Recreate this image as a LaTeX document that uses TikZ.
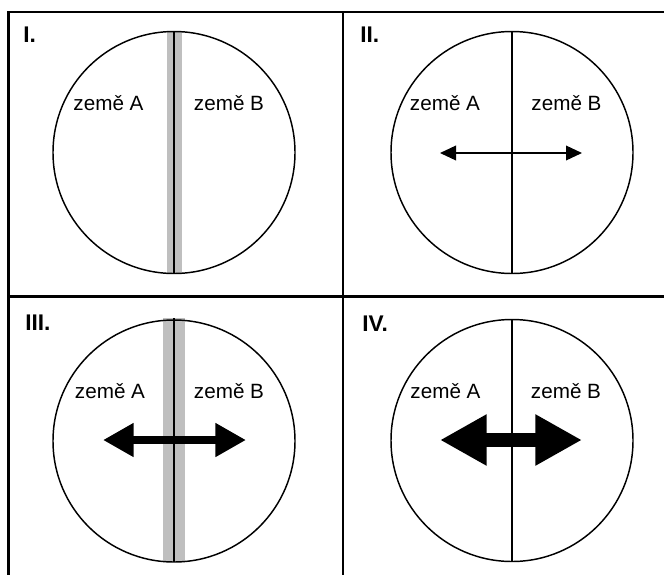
\documentclass[tikz,border=0pt]{standalone}
\usepackage{fontspec}
\setmainfont{Liberation Sans}
\usetikzlibrary{arrows.meta}
\begin{document}
\begin{tikzpicture}[x=0.75pt,y=-0.75pt,
  frame/.style={line width=1.6pt},
  globe/.style={line width=1.1pt},
  border/.style={line width=1.1pt},
  zone/.style={line width=#1, draw=black!25},
  lbl/.style={anchor=base, inner sep=0pt, font=\fontsize{15.5pt}{18pt}\selectfont},
  num/.style={anchor=base west, inner sep=0pt, font=\fontsize{17pt}{20pt}\selectfont\bfseries},
  thinarrow/.style={line width=1.1pt, {Triangle[length=12pt,width=11pt]}-{Triangle[length=12pt,width=11pt]}},
  midarrow/.style={line width=6pt, {Triangle[length=23pt,width=24pt]}-{Triangle[length=23pt,width=24pt]}},
  bigarrow/.style={line width=11pt, {Triangle[length=35pt,width=36pt]}-{Triangle[length=35pt,width=36pt]}}]
\useasboundingbox (0,0) rectangle (664,575);
% frame
\coordinate (tl) at (8.5,12);
\coordinate (tr) at (664,12);
\coordinate (bl) at (8.5,575);
\coordinate (mt) at (343,12);
\coordinate (mb) at (343,575);
\coordinate (ml) at (8.5,296.5);
\coordinate (mr) at (664,296.5);
\draw[frame] (tr) -- (tl) -- (bl);
\draw[frame] (mt) -- (mb);
\draw[frame] (ml) -- (mr);
% ---------- I ----------
\node[num] (n1) at (23,42) {I.};
\coordinate (c1) at (174,152.5);
\coordinate (t1) at (174,31.5);
\coordinate (b1) at (174,273.5);
\draw[zone=11.25pt] (t1) -- (b1);
\draw[border] (t1) -- (b1);
\draw[globe] (c1) circle[radius=121];
\node[lbl] (a1) at (108.5,110) {země A};
\node[lbl] (bb1) at (229,110) {země B};
% ---------- II ----------
\node[num] (n2) at (360,42) {II.};
\coordinate (c2) at (512,152.5);
\coordinate (t2) at (512,31.5);
\coordinate (b2) at (512,273.5);
\draw[border] (t2) -- (b2);
\draw[globe] (c2) circle[radius=121];
\node[lbl] (a2) at (445,110) {země A};
\node[lbl] (bb2) at (566.5,110) {země B};
\coordinate (l2) at (440,153);
\coordinate (r2) at (582,153);
\draw[thinarrow] (l2) -- (r2);
% ---------- III ----------
\node[num] (n3) at (25,330) {III.};
\coordinate (c3) at (174,441);
\coordinate (t3) at (174,318);
\coordinate (b3) at (174,562);
\draw[zone=16.5pt] (t3) -- (b3);
\draw[border] (t3) -- (b3);
\draw[globe] (c3) circle[radius=121];
\node[lbl] (a3) at (110,398) {země A};
\node[lbl] (bb3) at (229,398) {země B};
\coordinate (l3) at (103,440);
\coordinate (r3) at (246,440);
\draw[midarrow] (l3) -- (r3);
% ---------- IV ----------
\node[num] (n4) at (362,331) {IV.};
\coordinate (c4) at (512,440.5);
\coordinate (t4) at (512,319.5);
\coordinate (b4) at (512,561.5);
\draw[border] (t4) -- (b4);
\draw[globe] (c4) circle[radius=121];
\node[lbl] (a4) at (445.5,398) {země A};
\node[lbl] (bb4) at (566,398) {země B};
\coordinate (l4) at (440,440);
\coordinate (r4) at (582,440);
\draw[bigarrow] (l4) -- (r4);
\end{tikzpicture}
\end{document}
